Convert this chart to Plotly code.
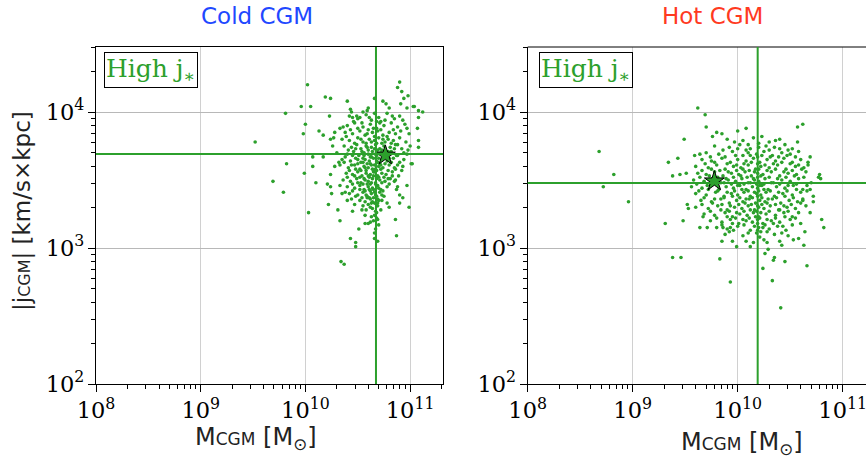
import plotly.graph_objects as go

GREEN = "#2ca02c"

# ---------------- data (log10 M_CGM [Msun], log10 |j_CGM| [km/s kpc]) ----------------
cold_pts = [
    (9.52, 3.78), (9.82, 3.62), (9.69, 3.49), (9.79, 3.41), (9.81, 3.99), (9.96, 4.04),
    (10.05, 4.04), (10.02, 4.20), (10.19, 4.11), (10.24, 4.10), (10.40, 4.08), (9.98, 3.84),
    (10.00, 3.91), (10.13, 3.86), (10.17, 3.83), (10.90, 4.22), (10.88, 4.18), (10.92, 4.15),
    (10.98, 4.12), (10.94, 4.10), (11.03, 4.04), (11.12, 4.00), (11.08, 4.01), (11.01, 3.62),
    (11.08, 3.74), (11.08, 3.79), (11.07, 3.88), (11.08, 3.96), (10.74, 4.08), (10.66, 4.10),
    (10.77, 4.06), (10.80, 4.03), (10.91, 4.06), (10.97, 4.03), (11.04, 4.04), (10.07, 3.60),
    (9.99, 3.55), (10.10, 3.48), (10.03, 3.26), (10.22, 3.32), (10.31, 3.28), (10.33, 3.20),
    (10.45, 3.27), (10.43, 3.07), (10.48, 3.04), (10.48, 3.01), (10.34, 2.90), (10.37, 2.88),
    (10.51, 3.14), (10.66, 3.07), (10.87, 3.09), (10.86, 3.21), (10.99, 3.30), (10.90, 3.33),
    (10.54, 3.28), (10.57, 3.24), (10.57, 3.18), (10.60, 3.18), (10.62, 3.19), (10.65, 3.20),
    (10.68, 3.26), (10.69, 3.21), (10.69, 3.33), (10.73, 3.35), (10.78, 3.33), (10.80, 3.30),
    (10.93, 3.37), (10.97, 3.46), (10.63, 3.33), (10.59, 3.37), (10.47, 3.32), (10.44, 3.36),
    (10.40, 3.35), (10.25, 3.40), (10.21, 3.47), (10.24, 3.45), (10.33, 3.46), (10.38, 3.41),
    (10.35, 3.40), (10.87, 3.43), (10.90, 3.39), (10.88, 3.45), (10.85, 3.49), (10.92, 3.57),
    (10.83, 3.53), (10.43, 4.02), (10.44, 4.00), (10.55, 4.00), (10.59, 4.01), (10.60, 4.03),
    (10.23, 3.97), (10.49, 3.97), (10.52, 3.96), (10.45, 3.96), (10.28, 3.85), (10.33, 3.88),
    (10.36, 3.89), (10.24, 3.80), (10.27, 3.81), (10.26, 3.75), (10.07, 3.67), (10.17, 3.67),
    (10.33, 3.61), (10.37, 3.63), (10.24, 3.54), (11.02, 3.62), (10.94, 3.65), (10.98, 3.72),
    # dense core
    (10.42, 3.97), (10.50, 3.95), (10.58, 3.98), (10.63, 3.94), (10.70, 3.96), (10.78, 3.99),
    (10.85, 3.95), (10.90, 3.97), (10.72, 3.93), (10.66, 3.99),
    (10.40, 3.90), (10.47, 3.92), (10.55, 3.89), (10.62, 3.91), (10.68, 3.88), (10.75, 3.90),
    (10.82, 3.92), (10.88, 3.89), (10.95, 3.91), (10.60, 3.87), (10.71, 3.92),
    (10.38, 3.85), (10.45, 3.84), (10.52, 3.86), (10.57, 3.83), (10.64, 3.85), (10.69, 3.86),
    (10.74, 3.83), (10.80, 3.85), (10.86, 3.84), (10.91, 3.86), (10.99, 3.84), (10.66, 3.82),
    (10.35, 3.80), (10.42, 3.79), (10.50, 3.81), (10.55, 3.78), (10.61, 3.80), (10.66, 3.79),
    (10.70, 3.81), (10.76, 3.78), (10.79, 3.80), (10.84, 3.79), (10.90, 3.81), (10.96, 3.78),
    (10.58, 3.77), (10.73, 3.77),
    (10.37, 3.75), (10.44, 3.74), (10.49, 3.76), (10.53, 3.73), (10.58, 3.75), (10.63, 3.74),
    (10.67, 3.76), (10.71, 3.73), (10.75, 3.75), (10.81, 3.74), (10.86, 3.76), (10.92, 3.73),
    (11.00, 3.75), (10.60, 3.72), (10.69, 3.72),
    (10.30, 3.70), (10.40, 3.69), (10.46, 3.71), (10.51, 3.68), (10.56, 3.70), (10.60, 3.69),
    (10.64, 3.71), (10.68, 3.68), (10.72, 3.70), (10.77, 3.69), (10.82, 3.71), (10.88, 3.68),
    (10.94, 3.70), (10.62, 3.67), (10.70, 3.66), (10.55, 3.66),
    (10.35, 3.65), (10.43, 3.64), (10.48, 3.66), (10.53, 3.63), (10.57, 3.65), (10.61, 3.64),
    (10.65, 3.66), (10.69, 3.63), (10.73, 3.65), (10.78, 3.64), (10.84, 3.66), (10.90, 3.63),
    (10.59, 3.62), (10.66, 3.61), (10.71, 3.62),
    (10.28, 3.60), (10.41, 3.59), (10.47, 3.61), (10.52, 3.58), (10.56, 3.60), (10.60, 3.59),
    (10.63, 3.61), (10.67, 3.58), (10.70, 3.60), (10.74, 3.59), (10.80, 3.61), (10.86, 3.58),
    (10.93, 3.60), (10.58, 3.57), (10.65, 3.56),
    (10.39, 3.55), (10.45, 3.54), (10.50, 3.56), (10.54, 3.53), (10.58, 3.55), (10.62, 3.54),
    (10.66, 3.56), (10.69, 3.53), (10.73, 3.55), (10.77, 3.54), (10.83, 3.56), (10.89, 3.53),
    (10.61, 3.52), (10.68, 3.51),
    (10.36, 3.50), (10.43, 3.49), (10.49, 3.51), (10.53, 3.48), (10.57, 3.50), (10.60, 3.49),
    (10.64, 3.51), (10.67, 3.48), (10.71, 3.50), (10.76, 3.49), (10.81, 3.51), (10.62, 3.47),
    (10.69, 3.46),
    (10.40, 3.45), (10.47, 3.44), (10.52, 3.46), (10.56, 3.43), (10.60, 3.45), (10.64, 3.44),
    (10.68, 3.46), (10.72, 3.43), (10.78, 3.45), (10.62, 3.42), (10.66, 3.41),
    (10.42, 3.40), (10.50, 3.39), (10.55, 3.41), (10.59, 3.38), (10.63, 3.40), (10.67, 3.39),
    (10.71, 3.41), (10.75, 3.38), (10.61, 3.37), (10.69, 3.36),
    (10.52, 3.35), (10.57, 3.34), (10.62, 3.36), (10.66, 3.33), (10.70, 3.35), (10.60, 3.32),
    (10.58, 3.28), (10.64, 3.29), (10.67, 3.27), (10.72, 3.28),
    (10.67, 3.14), (10.69, 3.05), (10.68, 3.22),
    (10.46, 3.93), (10.54, 3.92), (10.61, 3.96), (10.68, 3.93), (10.76, 3.94), (10.83, 3.97),
    (10.93, 3.94), (10.43, 3.87), (10.50, 3.88), (10.59, 3.84), (10.65, 3.88), (10.72, 3.87),
    (10.78, 3.82), (10.84, 3.87), (10.97, 3.88), (10.39, 3.82), (10.47, 3.77), (10.53, 3.80),
    (10.63, 3.78), (10.68, 3.77), (10.74, 3.80), (10.82, 3.77), (10.88, 3.76), (10.41, 3.72),
    (10.48, 3.73), (10.54, 3.71), (10.59, 3.74), (10.66, 3.73), (10.73, 3.72), (10.79, 3.71),
    (10.85, 3.73), (10.97, 3.69), (10.38, 3.67), (10.45, 3.68), (10.50, 3.65), (10.56, 3.68),
    (10.63, 3.67), (10.67, 3.69), (10.75, 3.67), (10.80, 3.66), (10.87, 3.68), (10.32, 3.63),
    (10.44, 3.61), (10.50, 3.62), (10.55, 3.63), (10.62, 3.62), (10.68, 3.64), (10.72, 3.61),
    (10.76, 3.62), (10.82, 3.63), (10.88, 3.61), (10.42, 3.57), (10.48, 3.58), (10.53, 3.57),
    (10.57, 3.59), (10.64, 3.58), (10.68, 3.57), (10.72, 3.58), (10.79, 3.57), (10.85, 3.59),
    (10.40, 3.52), (10.47, 3.53), (10.52, 3.52), (10.56, 3.51), (10.60, 3.53), (10.65, 3.53),
    (10.70, 3.52), (10.75, 3.52), (10.79, 3.51), (10.86, 3.50), (10.45, 3.47), (10.50, 3.48),
    (10.55, 3.47), (10.59, 3.47), (10.63, 3.48), (10.67, 3.47), (10.73, 3.48), (10.80, 3.47),
    (10.45, 3.42), (10.52, 3.43), (10.57, 3.42), (10.61, 3.43), (10.65, 3.43), (10.70, 3.44),
    (10.74, 3.42), (10.48, 3.38), (10.54, 3.37), (10.58, 3.39), (10.65, 3.37), (10.68, 3.38),
    (10.73, 3.39), (10.64, 3.34), (10.55, 3.31), (10.62, 3.30), (10.69, 3.31), (10.66, 3.24),
    (10.63, 3.23), (10.70, 3.17), (10.66, 3.11),
]

hot_pts = [
    (9.62, 4.03), (9.69, 3.98), (9.70, 3.89), (9.49, 3.80), (9.43, 3.66), (9.34, 3.63),
    (8.68, 3.71), (8.82, 3.54), (8.72, 3.45), (10.62, 3.91), (10.57, 3.89), (10.08, 3.88),
    (10.23, 3.82), (10.78, 3.54), (10.79, 3.51), (10.69, 3.67), (10.67, 3.63), (10.57, 3.78),
    (9.80, 3.85), (9.76, 3.82), (9.85, 3.84), (9.38, 3.53), (9.45, 3.54), (9.51, 3.55),
    (9.59, 3.68), (9.64, 3.69), (10.00, 3.86), (10.67, 3.61), (10.69, 3.43), (10.62, 3.35),
    (10.77, 3.52),
    (8.96, 3.34), (9.31, 3.18), (9.48, 3.20), (9.38, 2.93), (9.46, 2.93), (9.83, 2.92),
    (9.93, 2.75), (9.85, 3.05), (10.08, 3.05), (9.99, 3.01), (10.12, 3.01), (10.24, 2.85),
    (10.34, 2.91), (10.35, 2.93), (10.45, 2.90), (10.33, 2.76), (10.41, 2.56), (10.66, 2.87),
    (10.63, 3.02), (10.42, 3.02), (10.53, 3.06), (10.58, 3.07), (10.64, 3.12), (10.80, 3.21),
    (10.82, 3.15), (10.69, 3.26), (10.72, 3.34), (10.28, 3.04), (10.29, 2.99), (10.26, 2.96),
    (10.22, 3.12), (10.24, 3.15), (9.93, 3.15), (9.96, 3.13), (9.86, 3.15), (9.71, 3.15),
    (9.64, 3.15), (9.67, 3.23), (9.53, 3.29), (9.52, 3.32),
    # dense core
    (9.90, 3.80), (10.05, 3.79), (10.15, 3.81), (10.30, 3.78), (10.40, 3.80),
    (9.78, 3.75), (9.92, 3.74), (10.02, 3.76), (10.12, 3.73), (10.27, 3.75), (10.35, 3.74),
    (10.45, 3.76), (10.52, 3.73),
    (9.70, 3.70), (9.82, 3.69), (9.95, 3.71), (10.05, 3.68), (10.10, 3.70), (10.18, 3.69),
    (10.25, 3.71), (10.33, 3.68), (10.42, 3.70), (10.50, 3.69), (10.58, 3.71),
    (9.66, 3.65), (9.75, 3.64), (9.85, 3.66), (9.93, 3.63), (10.00, 3.65), (10.08, 3.64),
    (10.15, 3.66), (10.21, 3.63), (10.28, 3.65), (10.36, 3.64), (10.44, 3.66), (10.52, 3.63),
    (10.60, 3.65),
    (9.60, 3.60), (9.72, 3.59), (9.80, 3.61), (9.88, 3.58), (9.96, 3.60), (10.03, 3.59),
    (10.10, 3.61), (10.17, 3.58), (10.22, 3.60), (10.30, 3.59), (10.38, 3.61), (10.46, 3.58),
    (10.55, 3.60), (10.63, 3.59),
    (9.62, 3.55), (9.70, 3.54), (9.78, 3.56), (9.86, 3.53), (9.94, 3.55), (10.01, 3.54),
    (10.07, 3.56), (10.13, 3.53), (10.19, 3.55), (10.24, 3.54), (10.32, 3.56), (10.40, 3.53),
    (10.48, 3.55), (10.56, 3.54), (10.65, 3.56),
    (9.58, 3.50), (9.68, 3.49), (9.76, 3.51), (9.84, 3.48), (9.91, 3.50), (9.98, 3.49),
    (10.04, 3.51), (10.10, 3.48), (10.16, 3.50), (10.20, 3.49), (10.26, 3.51), (10.34, 3.48),
    (10.42, 3.50), (10.50, 3.49), (10.58, 3.51), (10.70, 3.48),
    (9.56, 3.45), (9.66, 3.44), (9.74, 3.46), (9.82, 3.43), (9.89, 3.45), (9.96, 3.44),
    (10.02, 3.46), (10.08, 3.43), (10.14, 3.45), (10.19, 3.44), (10.23, 3.46), (10.29, 3.43),
    (10.37, 3.45), (10.45, 3.44), (10.53, 3.46), (10.62, 3.43),
    (9.60, 3.40), (9.70, 3.39), (9.79, 3.41), (9.87, 3.38), (9.94, 3.40), (10.00, 3.39),
    (10.06, 3.41), (10.12, 3.38), (10.18, 3.40), (10.22, 3.39), (10.27, 3.41), (10.35, 3.38),
    (10.43, 3.40), (10.52, 3.39), (10.60, 3.41), (10.72, 3.38),
    (9.65, 3.35), (9.75, 3.34), (9.84, 3.36), (9.92, 3.33), (9.99, 3.35), (10.05, 3.34),
    (10.11, 3.36), (10.17, 3.33), (10.21, 3.35), (10.26, 3.34), (10.33, 3.36), (10.41, 3.33),
    (10.49, 3.35), (10.57, 3.34),
    (9.60, 3.30), (9.72, 3.29), (9.81, 3.31), (9.90, 3.28), (9.97, 3.30), (10.04, 3.29),
    (10.10, 3.31), (10.16, 3.28), (10.20, 3.30), (10.25, 3.29), (10.31, 3.31), (10.39, 3.28),
    (10.47, 3.30), (10.55, 3.29), (10.65, 3.31),
    (9.68, 3.25), (9.78, 3.24), (9.88, 3.26), (9.95, 3.23), (10.02, 3.25), (10.09, 3.24),
    (10.15, 3.26), (10.20, 3.23), (10.27, 3.25), (10.36, 3.24), (10.44, 3.26), (10.52, 3.23),
    (9.74, 3.20), (9.85, 3.19), (9.93, 3.21), (10.01, 3.18), (10.08, 3.20), (10.14, 3.19),
    (10.19, 3.21), (10.24, 3.18), (10.32, 3.20), (10.40, 3.19), (10.50, 3.21), (10.60, 3.18),
    (9.80, 3.15), (9.90, 3.14), (10.00, 3.16), (10.12, 3.13), (10.20, 3.15), (10.30, 3.14),
    (10.38, 3.16), (10.46, 3.13),
    (9.88, 3.10), (10.05, 3.09), (10.18, 3.11), (10.21, 3.08), (10.35, 3.10), (10.48, 3.09),
    (9.95, 3.05), (10.15, 3.04), (10.25, 3.06), (10.40, 3.05),
    (9.97, 3.78), (10.20, 3.77), (10.36, 3.79), (10.10, 3.76), (9.86, 3.72), (10.00, 3.73),
    (10.08, 3.72), (10.20, 3.74), (10.30, 3.72), (10.40, 3.73), (10.48, 3.72), (9.74, 3.67),
    (9.88, 3.67), (9.98, 3.68), (10.12, 3.68), (10.19, 3.67), (10.23, 3.68), (10.31, 3.67),
    (10.39, 3.67), (10.47, 3.68), (10.55, 3.67), (9.69, 3.62), (9.78, 3.63), (9.90, 3.62),
    (9.99, 3.61), (10.06, 3.62), (10.13, 3.63), (10.19, 3.62), (10.26, 3.61), (10.34, 3.62),
    (10.42, 3.63), (10.50, 3.62), (10.58, 3.61), (9.66, 3.57), (9.75, 3.58), (9.83, 3.57),
    (9.91, 3.56), (9.99, 3.57), (10.05, 3.58), (10.11, 3.57), (10.16, 3.56), (10.20, 3.58),
    (10.28, 3.57), (10.36, 3.58), (10.44, 3.56), (10.52, 3.57), (10.61, 3.58), (9.64, 3.52),
    (9.73, 3.53), (9.81, 3.52), (9.89, 3.51), (9.96, 3.52), (10.03, 3.53), (10.09, 3.52),
    (10.15, 3.51), (10.19, 3.52), (10.22, 3.53), (10.30, 3.52), (10.38, 3.51), (10.46, 3.52),
    (10.54, 3.53), (10.63, 3.52), (9.61, 3.47), (9.71, 3.46), (9.79, 3.47), (9.87, 3.48),
    (9.94, 3.47), (10.00, 3.46), (10.06, 3.47), (10.12, 3.48), (10.18, 3.47), (10.21, 3.46),
    (10.25, 3.47), (10.32, 3.48), (10.40, 3.47), (10.48, 3.46), (10.56, 3.47), (10.66, 3.46),
    (9.63, 3.42), (9.72, 3.43), (9.81, 3.42), (9.90, 3.41), (9.97, 3.42), (10.04, 3.43),
    (10.10, 3.42), (10.16, 3.41), (10.20, 3.42), (10.25, 3.43), (10.31, 3.42), (10.39, 3.41),
    (10.47, 3.42), (10.56, 3.43), (10.66, 3.42), (9.68, 3.37), (9.78, 3.36), (9.87, 3.37),
    (9.95, 3.38), (10.02, 3.37), (10.08, 3.36), (10.14, 3.37), (10.19, 3.38), (10.23, 3.37),
    (10.29, 3.36), (10.37, 3.37), (10.45, 3.38), (10.53, 3.37), (10.62, 3.36), (9.66, 3.32),
    (9.76, 3.33), (9.85, 3.32), (9.93, 3.31), (10.01, 3.32), (10.07, 3.33), (10.13, 3.32),
    (10.19, 3.31), (10.23, 3.32), (10.28, 3.33), (10.36, 3.32), (10.44, 3.31), (10.51, 3.32),
    (10.60, 3.33), (9.74, 3.27), (9.84, 3.28), (9.92, 3.27), (9.99, 3.26), (10.06, 3.27),
    (10.12, 3.28), (10.18, 3.27), (10.22, 3.26), (10.30, 3.27), (10.40, 3.28), (10.48, 3.27),
    (10.58, 3.26), (9.80, 3.22), (9.90, 3.23), (9.98, 3.22), (10.05, 3.21), (10.11, 3.22),
    (10.17, 3.23), (10.21, 3.22), (10.28, 3.21), (10.36, 3.22), (10.45, 3.23), (10.55, 3.22),
    (9.85, 3.17), (9.95, 3.18), (10.06, 3.17), (10.16, 3.16), (10.19, 3.18), (10.26, 3.17),
    (10.34, 3.18), (10.43, 3.16), (10.52, 3.17), (9.92, 3.12), (10.10, 3.11), (10.19, 3.13),
    (10.28, 3.12), (10.42, 3.11),
]

cold_median = (4.72e10, 4.92e3)   # (M_CGM, j_CGM) medians -> lines
hot_median = (1.55e10, 3.0e3)
cold_star = (5.8e10, 4.8e3)
hot_star = (6.0e9, 3.1e3)

titles = ["Cold CGM", "Hot CGM"]
title_colors = ["#1f48ff", "#ff3a1f"]
x_title = 'M<span style="font-size:17px">CGM</span> [M<sub>⊙</sub>]'
y_title = '|j<span style="font-size:16px">CGM</span>| [km/s×kpc]'
legend_text = "High j<sub>∗</sub>"

# ---------------- figure ----------------
W, H = 866, 459
fig = go.Figure()

panels = [
    (cold_pts, cold_star, "x", "y"),
    (hot_pts, hot_star, "x2", "y2"),
]
for pts, star, xa, ya in panels:
    fig.add_trace(go.Scatter(
        x=[10 ** p[0] for p in pts], y=[10 ** p[1] for p in pts],
        mode="markers", xaxis=xa, yaxis=ya,
        marker=dict(size=3.6, color=GREEN, line=dict(width=0)),
        showlegend=False, hoverinfo="skip"))
    fig.add_trace(go.Scatter(
        x=[star[0]], y=[star[1]], mode="markers", xaxis=xa, yaxis=ya,
        marker=dict(symbol="star", size=15, color=GREEN,
                    line=dict(color="black", width=1)),
        showlegend=False, hoverinfo="skip"))

tickfont = dict(family="DejaVu Serif", size=18, color="black")

def axis_common():
    return dict(type="log", dtick=1, exponentformat="power", tickfont=tickfont,
                showline=True, linecolor="black", linewidth=1, automargin=False,
                ticks="outside", ticklen=7, tickcolor="black",
                ticklabeloverflow="allow",
                minor=dict(ticks="outside", ticklen=4, tickcolor="black", showgrid=False),
                showgrid=True, gridwidth=1, zeroline=False)

def xaxis(domain, rng, anchor):
    d = axis_common()
    d.update(domain=domain, range=rng, anchor=anchor, gridcolor="#d0d0d0")
    return d

def yaxis(domain, anchor):
    d = axis_common()
    d.update(domain=domain, range=[2, 4.478], anchor=anchor, gridcolor="#b8b8b8")
    return d

ydom = [1 - 384 / H, 1 - 47 / H]
xa1 = xaxis([96 / W, 443 / W], [8, 11.314], "y")
xa1["mirror"] = True
ya1 = yaxis(ydom, "x")
ya1["mirror"] = True
xa2 = xaxis([527.7 / W, 1.0], [8, 11.222], "y2")
ya2 = yaxis(ydom, "x2")

fig.update_layout(
    width=W, height=H, margin=dict(l=0, r=0, t=0, b=0, autoexpand=False),
    paper_bgcolor="white", plot_bgcolor="white",
    xaxis=xa1, yaxis=ya1, xaxis2=xa2, yaxis2=ya2,
    font=dict(family="DejaVu Sans"),
)

# top spine of right panel
fig.add_shape(type="line", xref="x2 domain", yref="y2 domain", x0=0, x1=1, y0=1, y1=1,
              line=dict(color="black", width=1))

# median lines
for med, xa, ya in [(cold_median, "x", "y"), (hot_median, "x2", "y2")]:
    fig.add_shape(type="line", xref=xa, yref=f"{ya} domain", x0=med[0], x1=med[0], y0=0, y1=1,
                  line=dict(color=GREEN, width=2), layer="above")
    fig.add_shape(type="line", xref=f"{xa} domain", yref=ya, x0=0, x1=1, y0=med[1], y1=med[1],
                  line=dict(color=GREEN, width=2), layer="above")

# titles
for txt, col, xc in [(titles[0], title_colors[0], 257), (titles[1], title_colors[1], 712)]:
    fig.add_annotation(text=txt, x=xc / W, y=1 - 16 / H, xref="paper", yref="paper",
                       showarrow=False, xanchor="center", yanchor="middle",
                       font=dict(family="DejaVu Sans", size=23, color=col))

# axis titles
for xc, yc in [(256, 438), (742, 443)]:
    fig.add_annotation(text=x_title, x=xc / W, y=1 - yc / H, xref="paper", yref="paper",
                       showarrow=False, xanchor="center", yanchor="middle",
                       font=dict(family="DejaVu Sans", size=24, color="#222"))
fig.add_annotation(text=y_title, x=22 / W, y=1 - 211 / H, xref="paper", yref="paper",
                   showarrow=False, textangle=-90, xanchor="center", yanchor="middle",
                   font=dict(family="DejaVu Sans", size=23, color="#222"))

# legend boxes
for xa, ya, xf in [("x", "y", 0.023), ("x2", "y2", 0.033)]:
    fig.add_annotation(text=legend_text, x=xf, y=0.985, xref=f"{xa} domain", yref=f"{ya} domain",
                       showarrow=False, xanchor="left", yanchor="top",
                       font=dict(family="DejaVu Serif", size=25, color=GREEN),
                       bgcolor="white", bordercolor="black", borderwidth=1, borderpad=1)

fig.write_html("out.html")
